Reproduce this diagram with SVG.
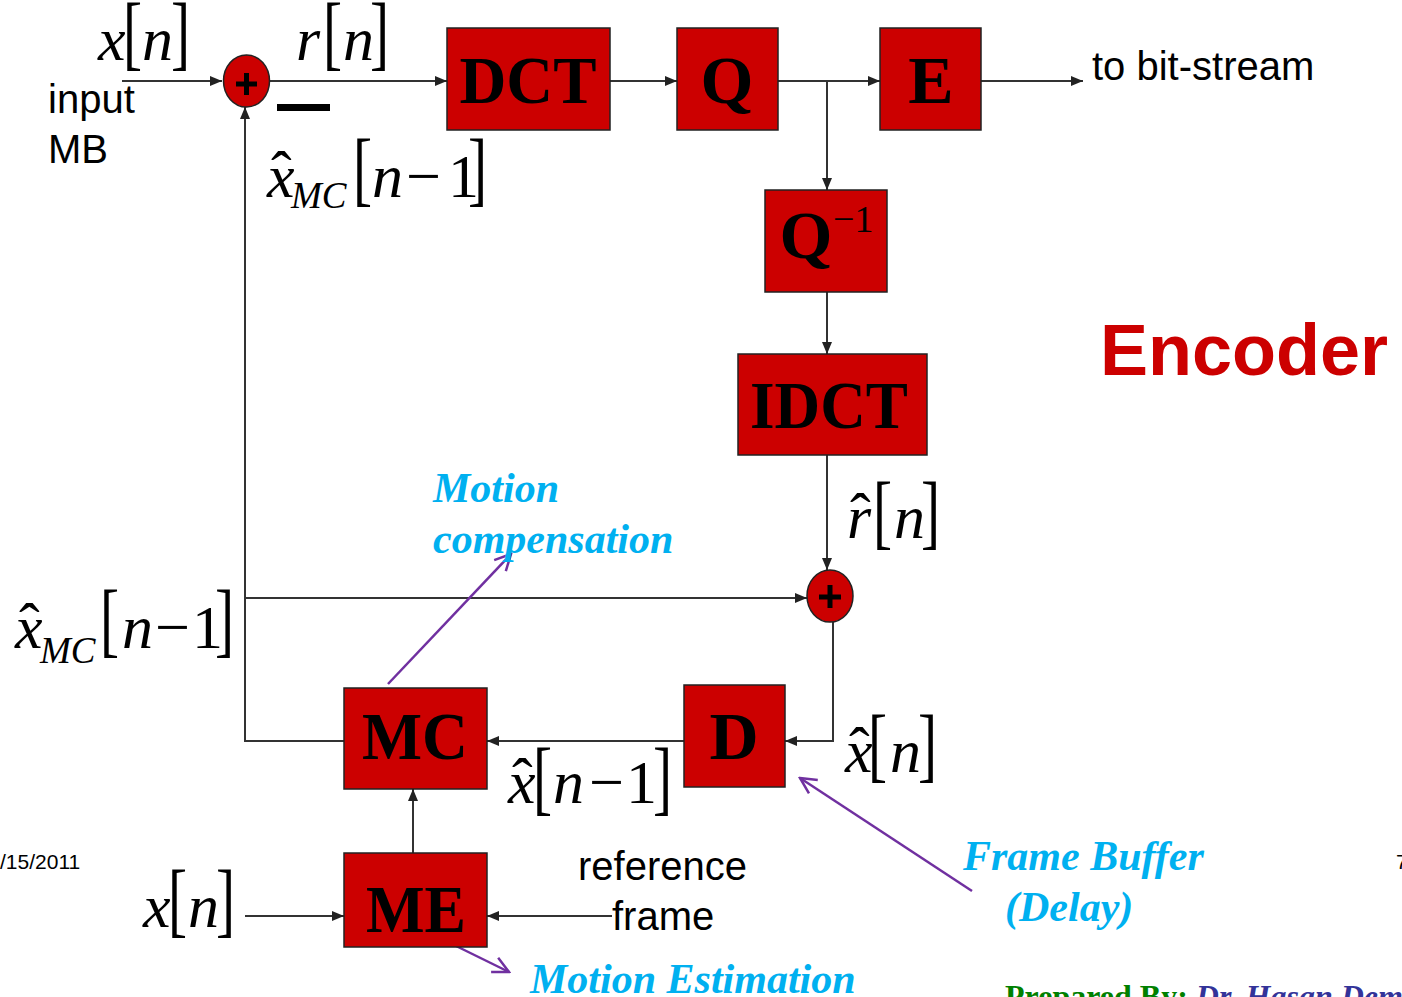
<svg xmlns="http://www.w3.org/2000/svg" width="1402" height="997" viewBox="0 0 1402 997">
<defs>
<marker id="ah" viewBox="0 0 12 10" refX="12" refY="5" markerWidth="12" markerHeight="10" markerUnits="userSpaceOnUse" orient="auto">
<path d="M0,0 L12,5 L0,10 z" fill="#222"/>
</marker>
<marker id="pa" viewBox="0 0 20 20" refX="18" refY="10" markerWidth="20" markerHeight="20" markerUnits="userSpaceOnUse" orient="auto">
<path d="M2,2 L18,10 L2,18" fill="none" stroke="#7030A0" stroke-width="2.5"/>
</marker>
<style>
.box{fill:#CC0000;stroke:#222;stroke-width:1.5}
.bl{font-family:"Liberation Serif",serif;font-weight:bold;font-size:68px;fill:#000;text-anchor:middle}
.ln{fill:none;stroke:#333;stroke-width:2}
.pl{fill:none;stroke:#7030A0;stroke-width:2.5}
.mi{font-family:"Liberation Serif",serif;font-style:italic;font-size:62px;fill:#000}
.mr{font-family:"Liberation Serif",serif;font-style:normal;font-size:62px;fill:#000}
.br{font-family:"Liberation Serif",serif;font-size:82px;fill:#000}
.sub{font-family:"Liberation Serif",serif;font-style:italic;font-size:37px;fill:#000}
.hat{font-family:"Liberation Serif",serif;font-style:normal;font-size:62px;fill:#000}
.ar{font-family:"Liberation Sans",Arial,sans-serif;font-size:40px;fill:#000}
.cy{font-family:"Liberation Serif",serif;font-style:italic;font-weight:bold;font-size:42px;fill:#00B0F0}
</style>
</defs>

<g id="connectors">
<line class="ln" x1="122" y1="81" x2="222" y2="81" marker-end="url(#ah)"/>
<line class="ln" x1="270" y1="81" x2="447" y2="81" marker-end="url(#ah)"/>
<line class="ln" x1="610" y1="81" x2="677" y2="81" marker-end="url(#ah)"/>
<line class="ln" x1="778" y1="81" x2="880" y2="81" marker-end="url(#ah)"/>
<line class="ln" x1="981" y1="81" x2="1083" y2="81" marker-end="url(#ah)"/>
<line class="ln" x1="827" y1="81" x2="827" y2="190" marker-end="url(#ah)"/>
<line class="ln" x1="827" y1="292" x2="827" y2="354" marker-end="url(#ah)"/>
<line class="ln" x1="827" y1="455" x2="827" y2="570" marker-end="url(#ah)"/>
<polyline class="ln" points="833,622 833,741 785,741" marker-end="url(#ah)"/>
<line class="ln" x1="684" y1="741" x2="487" y2="741" marker-end="url(#ah)"/>
<polyline class="ln" points="344,741 245,741 245,107" marker-end="url(#ah)"/>
<line class="ln" x1="245" y1="598" x2="807" y2="598" marker-end="url(#ah)"/>
<line class="ln" x1="413" y1="853" x2="413" y2="789" marker-end="url(#ah)"/>
<line class="ln" x1="245" y1="916" x2="344" y2="916" marker-end="url(#ah)"/>
<line class="ln" x1="612" y1="916" x2="487" y2="916" marker-end="url(#ah)"/>
<line class="pl" x1="388" y1="684" x2="511" y2="554" marker-end="url(#pa)"/>
<line class="pl" x1="972" y1="891" x2="800" y2="778" marker-end="url(#pa)"/>
<line class="pl" x1="450" y1="943" x2="509" y2="972" marker-end="url(#pa)"/>
</g>

<g id="sum1">
<ellipse cx="246.5" cy="81" rx="23" ry="26" fill="#CC0000" stroke="#222" stroke-width="1.5"/>
<path d="M236,84 H257 M246.5,73 V95" stroke="#000" stroke-width="5" fill="none"/>
<rect x="277" y="104" width="53" height="7" fill="#000"/>
</g>
<g id="sum2">
<ellipse cx="830" cy="596" rx="23" ry="26" fill="#CC0000" stroke="#222" stroke-width="1.5"/>
<path d="M819,597 H841 M830,585 V608" stroke="#000" stroke-width="5" fill="none"/>
</g>

<g id="DCT"><rect class="box" x="447" y="28" width="163" height="102"/><text class="bl" x="528" y="103" textLength="137" lengthAdjust="spacingAndGlyphs">DCT</text></g>
<g id="Q"><rect class="box" x="677" y="28" width="101" height="102"/><text class="bl" x="727" y="103">Q</text></g>
<g id="E"><rect class="box" x="880" y="28" width="101" height="102"/><text class="bl" x="931" y="103">E</text></g>
<g id="Qinv"><rect class="box" x="765" y="190" width="122" height="102"/><text class="bl" x="806" y="258">Q</text><text x="833" y="232" font-family="Liberation Serif,serif" font-size="38" fill="#000">−1</text></g>
<g id="IDCT"><rect class="box" x="738" y="354" width="189" height="101"/><text class="bl" x="829" y="428" textLength="158" lengthAdjust="spacingAndGlyphs">IDCT</text></g>
<g id="MC"><rect class="box" x="344" y="688" width="143" height="101"/><text class="bl" x="415" y="759" textLength="106" lengthAdjust="spacingAndGlyphs">MC</text></g>
<g id="D"><rect class="box" x="684" y="685" width="101" height="102"/><text class="bl" x="734" y="759">D</text></g>
<g id="ME"><rect class="box" x="344" y="853" width="143" height="94"/><text class="bl" x="416" y="932" textLength="100" lengthAdjust="spacingAndGlyphs">ME</text></g>

<g id="labels">
<!-- x[n] top -->
<text class="mi" x="98" y="60">x</text>
<text class="br" transform="translate(123,60) scale(0.7,1)">[</text>
<text class="mi" x="142" y="60">n</text>
<text class="br" transform="translate(171,60) scale(0.7,1)">]</text>
<text class="ar" x="48" y="113" font-size="41">input</text>
<text class="ar" x="48" y="163">MB</text>
<!-- r[n] -->
<text class="mi" x="296" y="60">r</text>
<text class="br" transform="translate(323,60) scale(0.7,1)">[</text>
<text class="mi" x="343" y="60">n</text>
<text class="br" transform="translate(370,60) scale(0.7,1)">]</text>
<!-- xhat_MC[n-1] top -->
<text class="mi" x="267" y="197">x<tspan class="hat" x="271" y="194">ˆ</tspan><tspan class="sub" x="291" y="208">MC</tspan></text>
<text class="br" transform="translate(353,196) scale(0.7,1)">[</text>
<text class="mi" x="372" y="197">n<tspan class="mr" x="406">−</tspan><tspan class="mr" x="448">1</tspan></text>
<text class="br" transform="translate(468,196) scale(0.7,1)">]</text>
<text class="ar" x="1092" y="80">to bit-stream</text>
<text x="1100" y="375" font-family="Liberation Sans,Arial,sans-serif" font-weight="bold" font-size="72" fill="#CC0000">Encoder</text>
<!-- rhat[n] -->
<text class="mi" x="847" y="538">r<tspan class="hat" x="850" y="536">ˆ</tspan></text>
<text class="br" transform="translate(873,539) scale(0.7,1)">[</text>
<text class="mi" x="894" y="538">n</text>
<text class="br" transform="translate(921,539) scale(0.7,1)">]</text>
<text class="cy" x="433" y="502">Motion</text>
<text class="cy" x="433" y="553">compensation</text>
<!-- xhat_MC[n-1] left -->
<text class="mi" x="15" y="648">x<tspan class="hat" x="19" y="646">ˆ</tspan><tspan class="sub" x="40" y="663">MC</tspan></text>
<text class="br" transform="translate(100,647) scale(0.7,1)">[</text>
<text class="mi" x="122" y="648">n<tspan class="mr" x="155">−</tspan><tspan class="mr" x="192">1</tspan></text>
<text class="br" transform="translate(215,647) scale(0.7,1)">]</text>
<!-- xhat[n-1] -->
<text class="mi" x="508" y="803">x<tspan class="hat" x="512" y="801">ˆ</tspan></text>
<text class="br" transform="translate(533,805) scale(0.7,1)">[</text>
<text class="mi" x="553" y="803">n<tspan class="mr" x="589">−</tspan><tspan class="mr" x="626">1</tspan></text>
<text class="br" transform="translate(653,805) scale(0.7,1)">]</text>
<!-- xhat[n] -->
<text class="mi" x="845" y="772">x<tspan class="hat" x="849" y="770">ˆ</tspan></text>
<text class="br" transform="translate(868,772) scale(0.7,1)">[</text>
<text class="mi" x="890" y="772">n</text>
<text class="br" transform="translate(918,772) scale(0.7,1)">]</text>
<!-- x[n] bottom -->
<text class="mi" x="143" y="927">x</text>
<text class="br" transform="translate(168,927) scale(0.7,1)">[</text>
<text class="mi" x="188" y="927">n</text>
<text class="br" transform="translate(216,927) scale(0.7,1)">]</text>
<text x="0" y="869" font-family="Liberation Sans,Arial,sans-serif" font-size="21" fill="#000">/15/2011</text>
<text x="1396" y="869" font-family="Liberation Sans,Arial,sans-serif" font-size="21" fill="#000">7</text>
<text class="ar" x="578" y="880">reference</text>
<text class="ar" x="612" y="930">frame</text>
<text class="cy" x="530" y="993">Motion Estimation</text>
<text class="cy" x="963" y="870">Frame Buffer</text>
<text class="cy" x="1005" y="921">(Delay)</text>
<text x="1005" y="1007" font-family="Liberation Serif,serif" font-size="32" font-weight="bold"><tspan fill="#008000">Prepared By: </tspan><tspan fill="#333399" font-style="italic">Dr. Hasan Dem</tspan></text>
</g>
</svg>
